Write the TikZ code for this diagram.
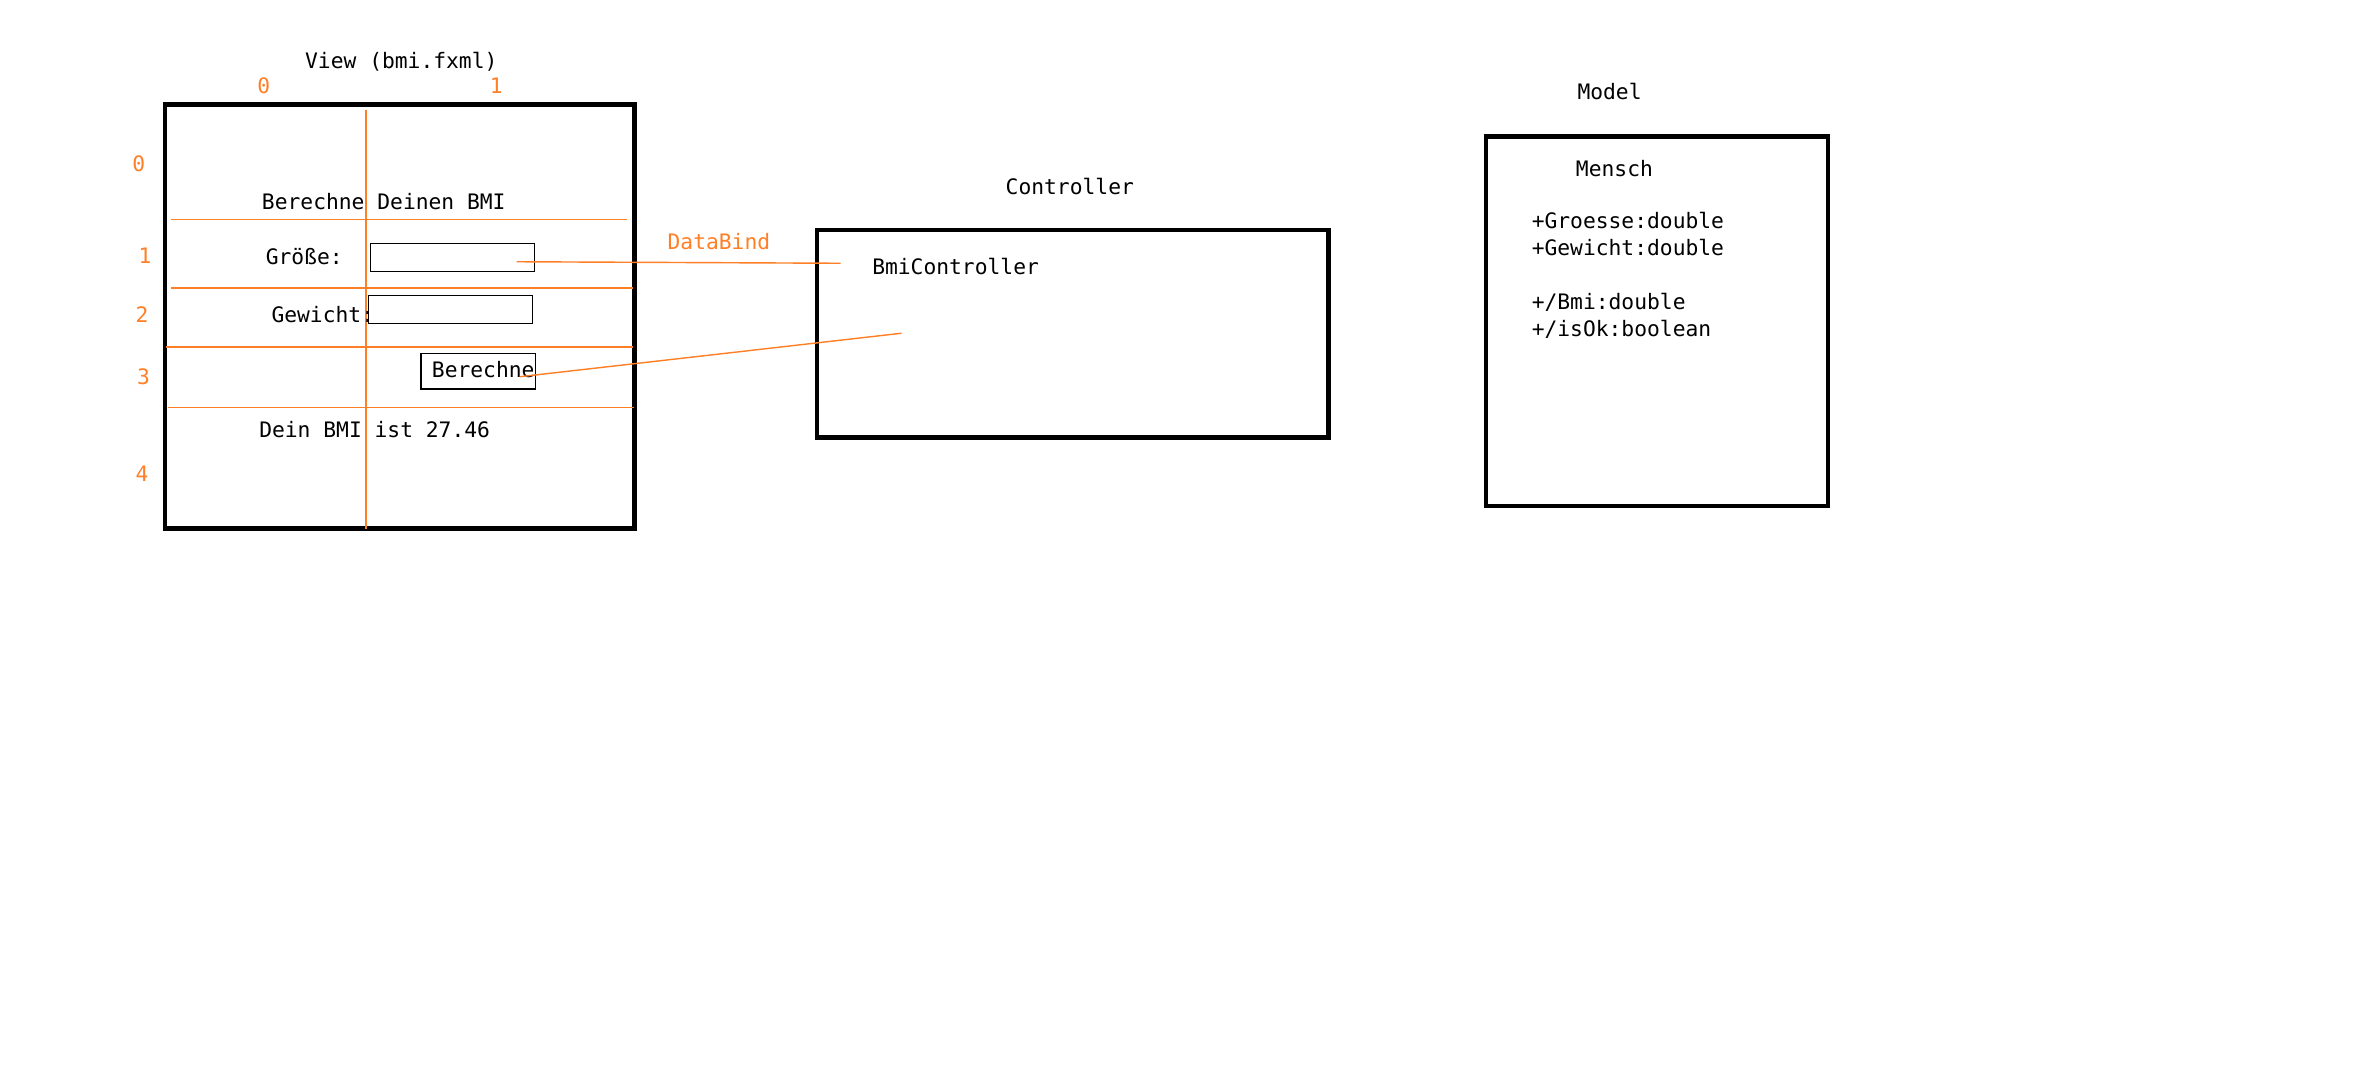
\documentclass[tikz,border=0pt]{standalone}
\usepackage{fontspec}
\newfontfamily\mono{DejaVu Sans Mono}
\usetikzlibrary{positioning}
\definecolor{gridorange}{RGB}{255,127,39}

\begin{document}
\begin{tikzpicture}[x=0.015cm,y=-0.015cm,
		txt/.style={font=\mono\fontsize{6}{7}\selectfont,anchor=base west,inner sep=0pt},
		idx/.style={txt,text=gridorange},
		panel/.style={draw=black,line width=1.25pt},
		rowline/.style={draw=gridorange,line width=0.4pt},
		field/.style={draw=black,line width=0.4pt}]
	\useasboundingbox (0,0) rectangle (1568,712.4);

	% View
	\node[txt] (viewtitle) at (201,45) {View (bmi.fxml)};
	\draw[panel] (109,69) coordinate (view-nw) rectangle (419,349) coordinate (view-se);
	\foreach \i/\x in {0/169.5,1/323}
		\node[idx] (col\i) at (\x,62) {\i};
	\foreach \i/\x/\y in {0/87/113.5,1/91/174,2/89/213,3/90/254,4/89/318}
		\node[idx] (row\i) at (\x,\y) {\i};
	\draw[rowline] (241.6,72.7) -- (241.6,349);
	\foreach \y/\a/\b in {145/113/414,190/113/418,229/109.5/418,269/111/418.6}
		\draw[rowline] (\a,\y) -- (\b,\y);

	\node[txt] (heading) at (172.5,138.2) {Berechne Deinen BMI};
	\node[txt] (lblsize) at (175,174.5) {Größe:};
	\draw[field] (244.6,160.8) rectangle (353,179.4);
	\node[txt] (lblweight) at (178.8,212.6) {Gewicht:};
	\draw[field] (243.3,195.2) rectangle (351.7,213.7);
	\draw[field] (277.9,233.5) rectangle (353.5,256.7);
	\node[txt] (btn) at (284.7,249) {Berechne};
	\node[txt] (result) at (170.7,288.8) {Dein BMI ist 27.46};

	% Controller
	\node[txt] (ctrltitle) at (663.5,128.7) {Controller};
	\draw[panel] (539.2,151.9) coordinate (ctrl-nw) rectangle (877,288.7) coordinate (ctrl-se);
	\node[txt] (ctrl) at (575.4,181) {BmiController};

	% Model
	\node[txt] (modeltitle) at (1041,65.6) {Model};
	\draw[panel] (981,90) coordinate (model-nw) rectangle (1207,334) coordinate (model-se);
	\node[txt] (cls) at (1040,116.2) {Mensch};
	\foreach \y/\t [count=\n] in {150.7/{+Groesse:double},168.4/{+Gewicht:double},204.2/{+/Bmi:double},222.3/{+/isOk:boolean}}
		\node[txt] (attr\n) at (1010.8,\y) {\t};

	% bindings
	\coordinate (bind-a) at (341,172.8);
	\coordinate (bind-b) at (555,173.8);
	\draw[rowline] (bind-a) -- (bind-b);
	\node[idx] (bindlbl) at (440.3,164.4) {DataBind};
	\coordinate (act-a) at (343.4,248.7);
	\coordinate (act-b) at (595.2,220);
	\draw[rowline] (act-a) -- (act-b);
\end{tikzpicture}
\end{document}
